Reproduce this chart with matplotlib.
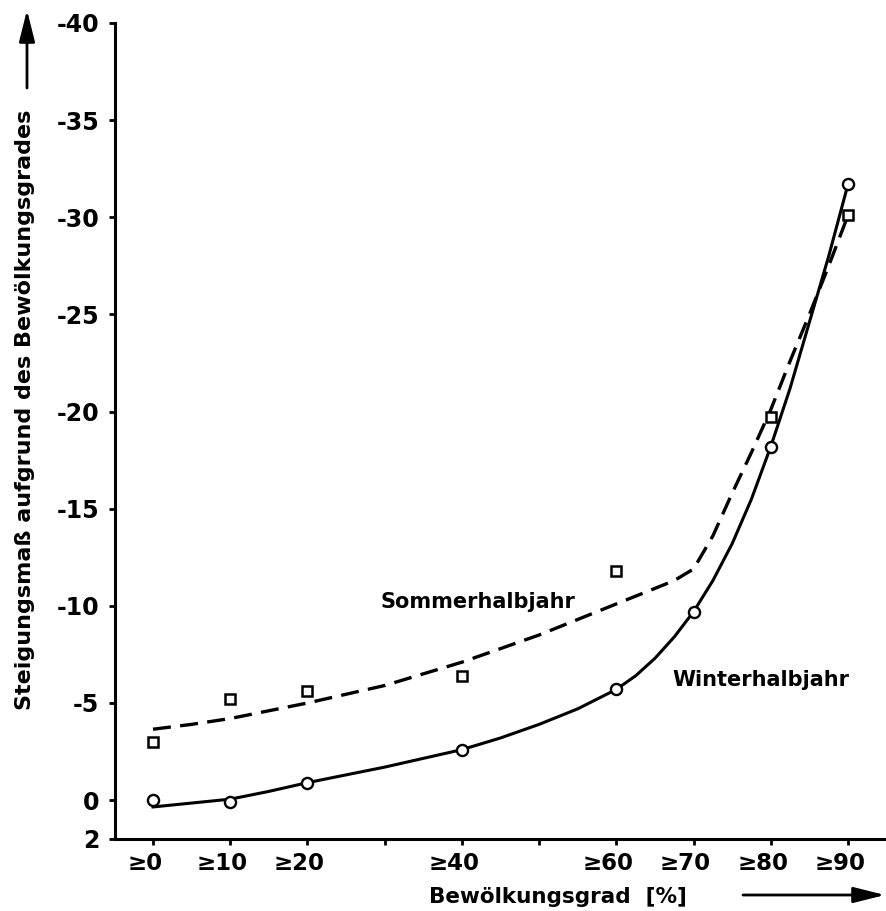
import matplotlib
matplotlib.use("Agg")
import matplotlib.pyplot as plt
import matplotlib.transforms as mtransforms

# cloud cover classes (x) and slope values (y, axis runs negative upwards)
cloud_ticks = [0, 10, 20, 30, 40, 50, 60, 70, 80, 90]
cloud_labels = ["≥0", "≥10", "≥20", "", "≥40", "", "≥60", "≥70", "≥80", "≥90"]
slope_ticks = [-40, -35, -30, -25, -20, -15, -10, -5, 0, 2]
slope_labels = ["-40", "-35", "-30", "-25", "-20", "-15", "-10", "-5", "0", "2"]

# measured points
sommer_x = [0, 10, 20, 40, 60, 80, 90]
sommer_y = [-3.0, -5.2, -5.6, -6.4, -11.8, -19.7, -30.1]
winter_x = [0, 10, 20, 40, 60, 70, 80, 90]
winter_y = [0.0, 0.1, -0.9, -2.6, -5.7, -9.7, -18.2, -31.7]

# hand-drawn fit curves
sommer_fit_x = [0, 5, 10, 15, 20, 25, 30, 35, 40, 45, 50, 55, 60, 65, 67.5,
                70, 72.5, 75, 77.5, 80, 82.5, 85, 87.5, 90]
sommer_fit_y = [-3.65, -3.9, -4.2, -4.6, -5.0, -5.45, -5.9, -6.5, -7.1, -7.8,
                -8.5, -9.3, -10.1, -10.9, -11.3, -11.9, -13.6, -15.8, -17.9,
                -20.1, -22.6, -25.0, -27.5, -30.1]
winter_fit_x = [0, 5, 10, 15, 20, 25, 30, 35, 40, 45, 50, 55, 60, 62.5, 65,
                67.5, 70, 72.5, 75, 77.5, 80, 82.5, 85, 87.5, 90]
winter_fit_y = [0.35, 0.15, -0.05, -0.45, -0.9, -1.3, -1.7, -2.15, -2.6, -3.2,
                -3.9, -4.7, -5.7, -6.4, -7.3, -8.4, -9.7, -11.3, -13.2, -15.5,
                -18.2, -21.2, -24.6, -28.0, -31.7]

plt.rcParams["font.family"] = "DejaVu Sans"
plt.rcParams["font.weight"] = "bold"

W, H = 886, 911
fig = plt.figure(figsize=(W / 100, H / 100), dpi=100)
ax = fig.add_axes([115 / W, 1 - 839 / H, (W - 115) / W, (839 - 23) / H])

ax.plot(sommer_fit_x, sommer_fit_y, color="black", lw=2.4, dashes=(5.4, 2.8),
        solid_capstyle="butt")
ax.plot(winter_fit_x, winter_fit_y, color="black", lw=2.2)
ax.plot(sommer_x, sommer_y, ls="none", marker="s", ms=7.5, mfc="white",
        mec="black", mew=1.8)
ax.plot(winter_x, winter_y, ls="none", marker="o", ms=8, mfc="white",
        mec="black", mew=1.7)

ax.text(29.5, -9.9, "Sommerhalbjahr", fontsize=15, va="baseline", ha="left")
ax.text(67.2, -5.86, "Winterhalbjahr", fontsize=15, va="baseline", ha="left")

ax.set_xlim(-4.92, 94.92)
ax.set_ylim(2, -40)
ax.set_xticks(cloud_ticks)
ax.set_xticklabels(cloud_labels)
ax.set_yticks(slope_ticks)
ax.set_yticklabels(slope_labels)

for s in ["top", "right"]:
    ax.spines[s].set_visible(False)
for s in ["left", "bottom"]:
    ax.spines[s].set_linewidth(2.2)
ax.tick_params(direction="out", length=4.5, width=2, labelsize=17, pad=7)
ax.tick_params(axis="x", pad=5, labelsize=16.5)

shift = mtransforms.ScaledTranslation(-8 / 100, 0, fig.dpi_scale_trans)
for lab in ax.get_xticklabels():
    lab.set_transform(lab.get_transform() + shift)

# axis titles with arrows
fig.text(25 / W, 1 - 710 / H, "Steigungsmaß aufgrund des Bewölkungsgrades",
         rotation=90, ha="center", va="bottom", fontsize=16)
ax.annotate("", xy=(27 / W, 1 - 10 / H), xytext=(27 / W, 1 - 88 / H),
            xycoords="figure fraction", textcoords="figure fraction",
            arrowprops=dict(arrowstyle="-|>,head_length=1.6,head_width=0.4",
                            lw=2, color="black", mutation_scale=12,
                            shrinkA=0, shrinkB=0))
fig.text(429 / W, 1 - 903 / H, "Bewölkungsgrad  [%]", ha="left",
         va="baseline", fontsize=15.5)
ax.annotate("", xy=(885 / W, 1 - 895 / H), xytext=(743 / W, 1 - 895 / H),
            xycoords="figure fraction", textcoords="figure fraction",
            arrowprops=dict(arrowstyle="-|>,head_length=1.6,head_width=0.4",
                            lw=2, color="black", mutation_scale=12,
                            shrinkA=0, shrinkB=0))

fig.savefig("out.png", dpi=100)
